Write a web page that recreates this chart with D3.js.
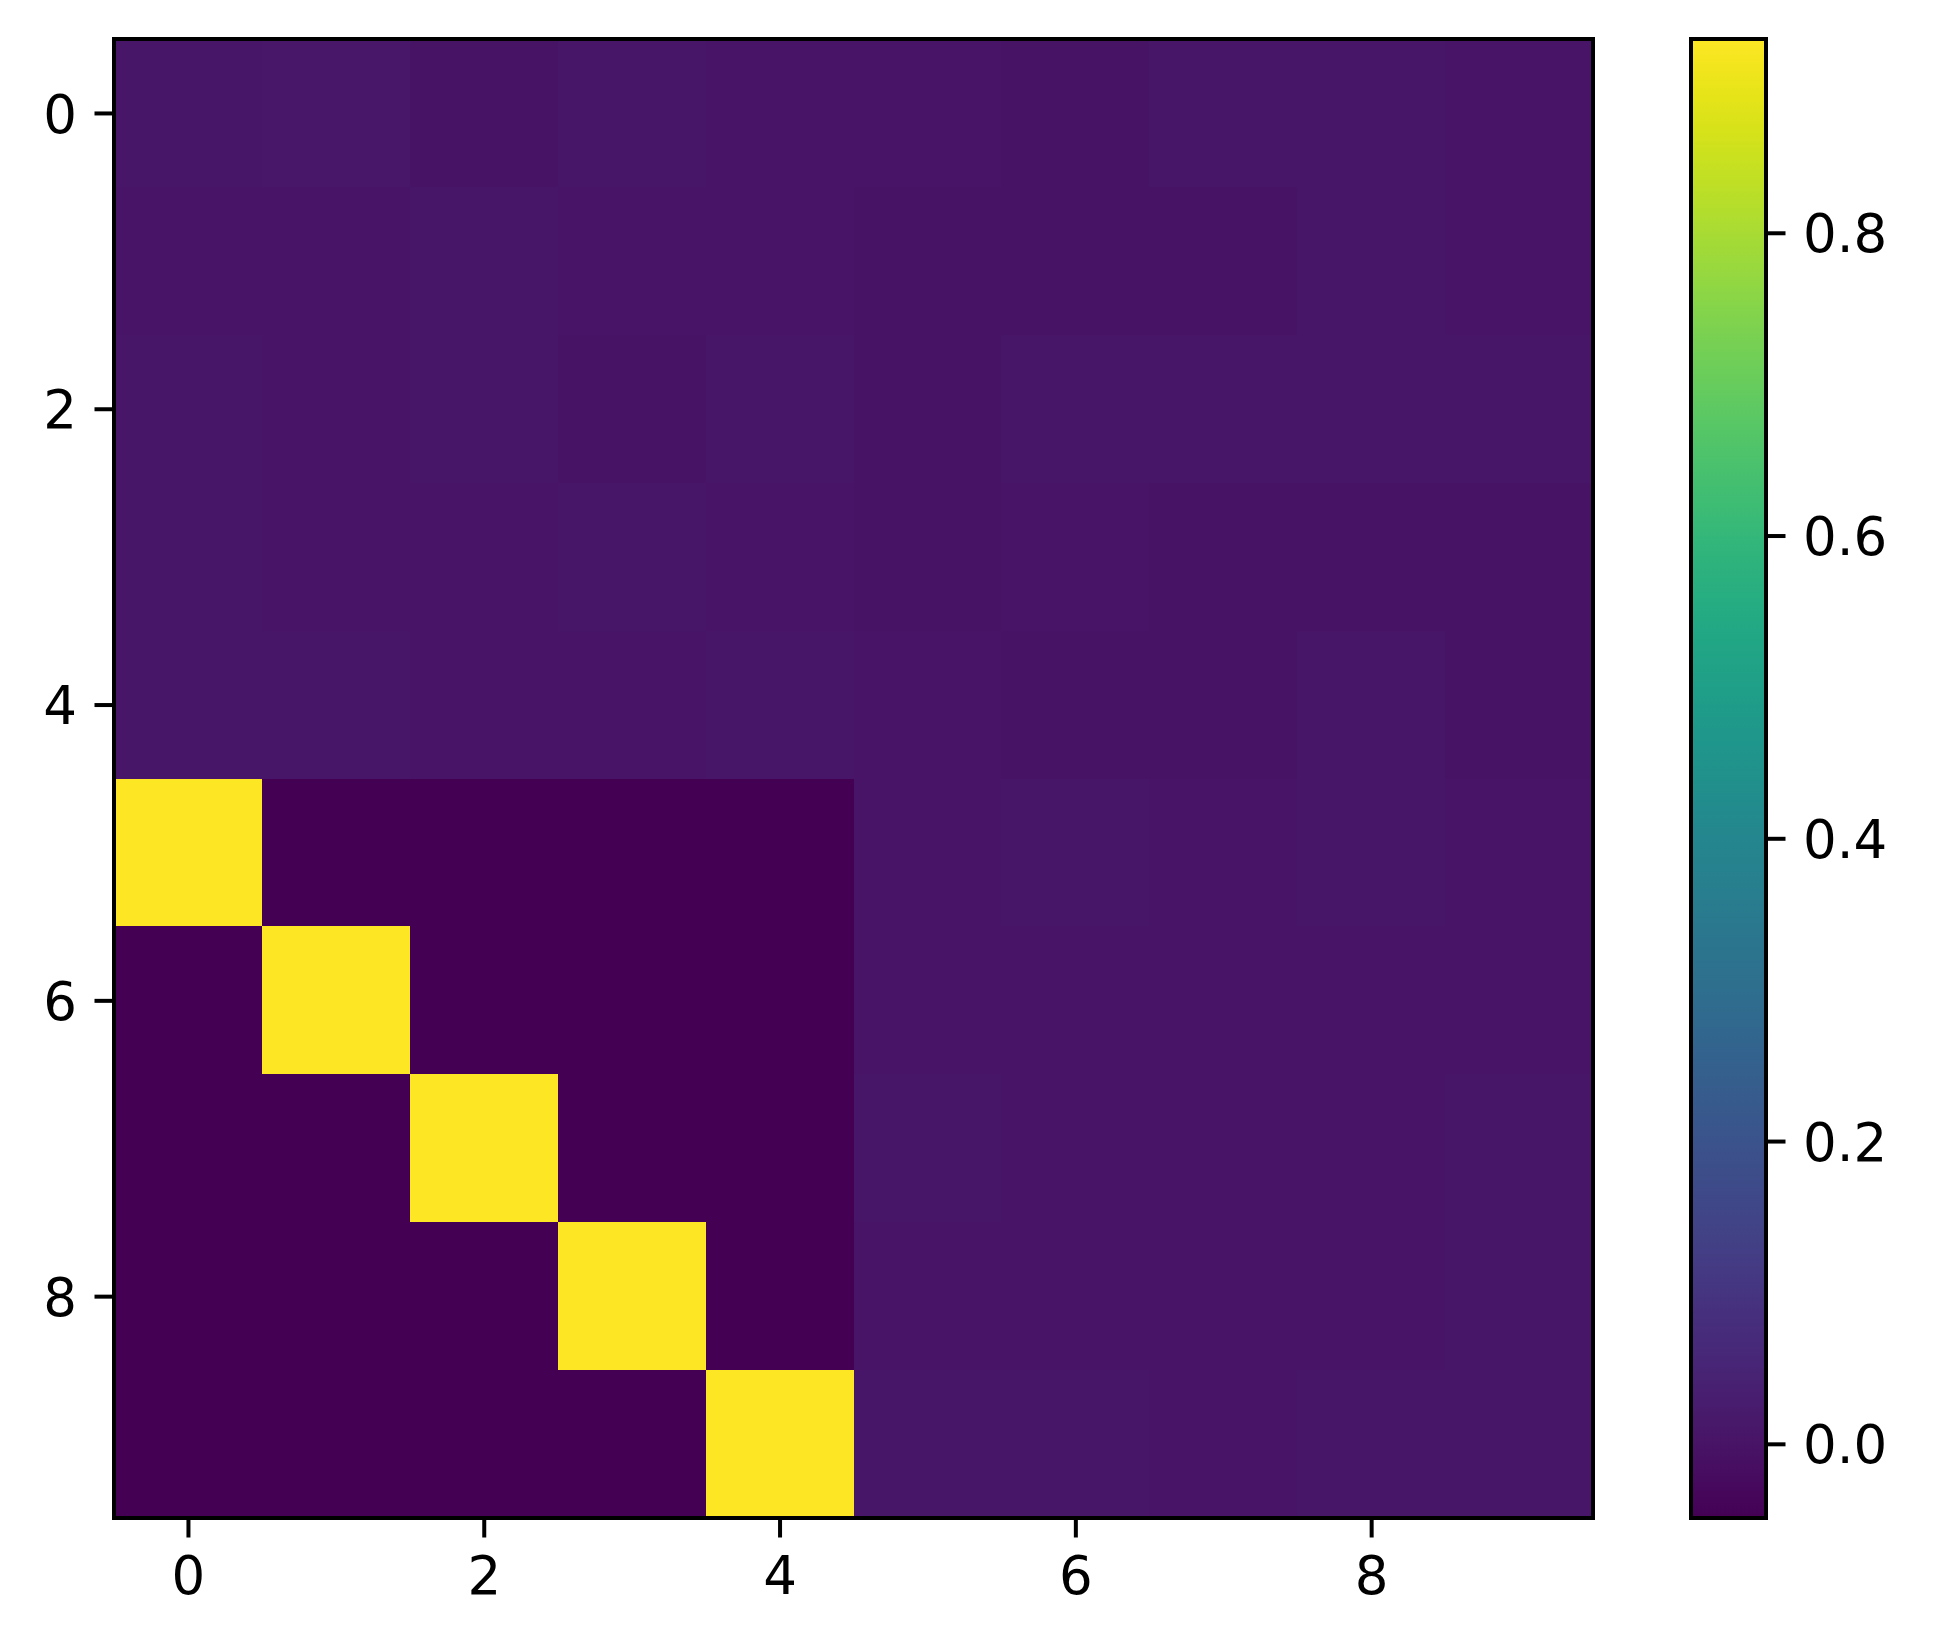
<!DOCTYPE html>
<html>
<head>
<meta charset="utf-8">
<script src="https://cdn.jsdelivr.net/npm/d3@7"></script>
<style>
  html, body { margin: 0; padding: 0; background: #ffffff; }
  svg { display: block; }
  text { font-family: "DejaVu Sans", sans-serif; }
</style>
</head>
<body>
<svg id="chart" width="1933" height="1651"></svg>
<script>
// ---- data ----
const rowIndex = [0, 1, 2, 3, 4, 5, 6, 7, 8, 9];
const colIndex = [0, 1, 2, 3, 4, 5, 6, 7, 8, 9];
const xTickLabels = [0, 2, 4, 6, 8];
const yTickLabels = [0, 2, 4, 6, 8];
const colorTicks = [0.0, 0.2, 0.4, 0.6, 0.8];
const valueMin = -0.049;
const valueMax = 0.928;
const values = [
  [0.007, 0.011, -0.001, 0.008, 0.004, 0.003, -0.001, 0.008, 0.007, 0.002],
  [0.002, 0.002, 0.007, 0.001, 0.001, -0.001, -0.001, -0.001, 0.007, 0.002],
  [0.006, 0.003, 0.007, 0.000, 0.008, -0.001, 0.005, 0.007, 0.007, 0.006],
  [0.007, 0.002, 0.003, 0.008, 0.004, -0.001, 0.004, -0.002, -0.001, -0.001],
  [0.007, 0.008, 0.004, 0.004, 0.008, 0.003, -0.001, -0.001, 0.007, -0.001],
  [0.928, -0.049, -0.049, -0.049, -0.049, 0.004, 0.007, 0.004, 0.007, 0.003],
  [-0.049, 0.928, -0.049, -0.049, -0.049, 0.004, 0.004, 0.004, 0.003, 0.002],
  [-0.049, -0.049, 0.928, -0.049, -0.049, 0.007, 0.004, 0.004, 0.003, 0.006],
  [-0.049, -0.049, -0.049, 0.928, -0.049, 0.004, 0.004, 0.003, 0.003, 0.006],
  [-0.049, -0.049, -0.049, -0.049, 0.928, 0.007, 0.007, 0.004, 0.006, 0.007]
];

// ---- layout ----
const svg = d3.select("#chart");
const heat = { x0: 114, x1: 1593, y0: 39, y1: 1518 };
const cbar = { x0: 1691, x1: 1766, y0: 39, y1: 1518 };
const fontSize = 53;
const tickLen = 17.5;
const tickPad = 17.5;
const spineW = 4;

const x = d3.scaleLinear().domain([-0.5, 9.5]).range([heat.x0, heat.x1]);
const y = d3.scaleLinear().domain([-0.5, 9.5]).range([heat.y0, heat.y1]);
const color = d3.scaleSequential(d3.interpolateViridis).domain([valueMin, valueMax]);

// cells
const cells = [];
values.forEach((row, r) => row.forEach((v, c) => cells.push({ r: rowIndex[r], c: colIndex[c], v })));
svg.append("g").selectAll("rect").data(cells).join("rect")
  .attr("x", d => x(d.c - 0.5))
  .attr("y", d => y(d.r - 0.5))
  .attr("width", d => x(d.c + 0.5) - x(d.c - 0.5) + 0.6)
  .attr("height", d => y(d.r + 0.5) - y(d.r - 0.5) + 0.6)
  .attr("fill", d => color(d.v))
  .attr("shape-rendering", "crispEdges");

// axes
const xAxis = d3.axisBottom(x).tickValues(xTickLabels).tickSize(tickLen).tickPadding(tickPad).tickFormat(d3.format("d"));
const yAxis = d3.axisLeft(y).tickValues(yTickLabels).tickSize(tickLen).tickPadding(tickPad).tickFormat(d3.format("d"));

const gx = svg.append("g").attr("transform", `translate(0,${heat.y1 + spineW / 2})`).call(xAxis);
const gy = svg.append("g").attr("transform", `translate(${heat.x0 - spineW / 2},0)`).call(yAxis);
[gx, gy].forEach(g => {
  g.select(".domain").remove();
  g.selectAll(".tick line").attr("stroke", "#000").attr("stroke-width", 4);
  g.selectAll(".tick text").attr("fill", "#000").style("font-size", fontSize + "px");
});
gx.selectAll(".tick text").attr("dy", null).attr("y", tickLen + tickPad).attr("dominant-baseline", "hanging");
gy.selectAll(".tick text").attr("dy", "0.36em");

// heatmap frame
svg.append("rect")
  .attr("x", heat.x0).attr("y", heat.y0)
  .attr("width", heat.x1 - heat.x0).attr("height", heat.y1 - heat.y0)
  .attr("fill", "none").attr("stroke", "#000").attr("stroke-width", spineW);

// colorbar gradient
const defs = svg.append("defs");
const grad = defs.append("linearGradient").attr("id", "cbgrad")
  .attr("x1", "0").attr("y1", "1").attr("x2", "0").attr("y2", "0");
d3.range(0, 1.0001, 0.02).forEach(t => {
  grad.append("stop").attr("offset", t).attr("stop-color", d3.interpolateViridis(t));
});
svg.append("rect")
  .attr("x", cbar.x0).attr("y", cbar.y0)
  .attr("width", cbar.x1 - cbar.x0).attr("height", cbar.y1 - cbar.y0)
  .attr("fill", "url(#cbgrad)");

const cy = d3.scaleLinear().domain([valueMin, valueMax]).range([cbar.y1, cbar.y0]);
const cAxis = d3.axisRight(cy).tickValues(colorTicks).tickSize(tickLen).tickPadding(tickPad).tickFormat(d3.format(".1f"));
const gc = svg.append("g").attr("transform", `translate(${cbar.x1 + spineW / 2},0)`).call(cAxis);
gc.select(".domain").remove();
gc.selectAll(".tick line").attr("stroke", "#000").attr("stroke-width", 4);
gc.selectAll(".tick text").attr("fill", "#000").style("font-size", fontSize + "px").attr("dy", "0.36em");

svg.append("rect")
  .attr("x", cbar.x0).attr("y", cbar.y0)
  .attr("width", cbar.x1 - cbar.x0).attr("height", cbar.y1 - cbar.y0)
  .attr("fill", "none").attr("stroke", "#000").attr("stroke-width", spineW);
</script>
</body>
</html>
